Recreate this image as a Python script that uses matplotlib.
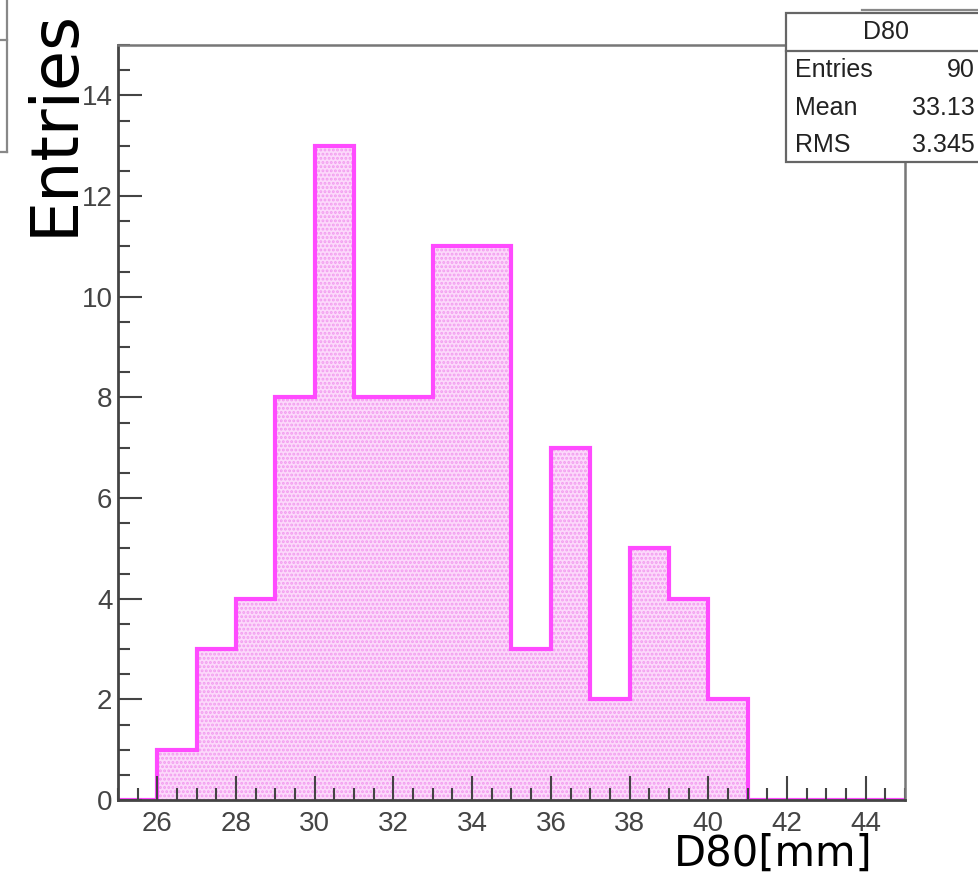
import numpy as np
import matplotlib
matplotlib.use("Agg")
import matplotlib.pyplot as plt
from matplotlib.patches import Rectangle
from matplotlib.lines import Line2D
from matplotlib.ticker import MultipleLocator

# ============================================================
# Histogram contents: D80 distribution, 1 mm bins from 25 to 45.
# ============================================================

bin_edges = list(range(25, 46))
bin_counts = [0, 1, 3, 4, 8, 13, 8, 8, 11, 11, 3, 7, 2, 5, 4, 2, 0, 0, 0, 0]

hist_name = "D80"
stat_names = ["Entries", "Mean", "RMS"]
stat_values = ["90", "33.13", "3.345"]

W, H = 979, 873


def fx(px):
    return px / W


def fy(py):
    return 1 - py / H


plt.rcParams["font.family"] = ["Liberation Sans", "DejaVu Sans"]
plt.rcParams["hatch.linewidth"] = 1.4

fig = plt.figure(figsize=(W / 100, H / 100), dpi=100)
ax = fig.add_axes([fx(118), fy(800), fx(905) - fx(118), fy(45) - fy(800)])

# ============================================================
# Filled histogram with a dotted pattern, then the magenta outline.
# ============================================================

ax.stairs(
    bin_counts,
    bin_edges,
    fill=True,
    facecolor="#fcd9fb",
    edgecolor="#f29bef",
    hatch="....",
    linewidth=0,
)
ax.stairs(
    bin_counts,
    bin_edges,
    baseline=0,
    color="#ff4aff",
    linewidth=3,
)

ax.set_xlim(25, 45)
ax.set_ylim(0, 15)

ax.xaxis.set_major_locator(MultipleLocator(2))
ax.xaxis.set_minor_locator(MultipleLocator(0.5))
ax.yaxis.set_major_locator(MultipleLocator(2))
ax.yaxis.set_minor_locator(MultipleLocator(0.5))

ax.tick_params(which="both", direction="in", color="#444444", width=1.5,
               top=False, right=False)
ax.tick_params(which="major", length=17, labelsize=20, labelcolor="#444444")
ax.tick_params(axis="x", which="major", pad=8)
ax.tick_params(axis="y", which="major", pad=4)
ax.tick_params(which="minor", length=8.5)

for side in ["left", "bottom"]:
    ax.spines[side].set_color("#444444")
    ax.spines[side].set_linewidth(2)
for side in ["top", "right"]:
    ax.spines[side].set_color("#777777")
    ax.spines[side].set_linewidth(1.8)

# ============================================================
# Axis titles.
# ============================================================

fig.text(fx(55), fy(122), "Entries", rotation=90, ha="center", va="center",
         fontsize=47, color="black", family=["DejaVu Sans"])
fig.text(fx(873), fy(866), "D80[mm]", ha="right", va="baseline",
         fontsize=30, color="black", family=["DejaVu Sans"])

# ============================================================
# Statistics box in the upper right corner.
# ============================================================

box = Rectangle((fx(786), fy(162)), fx(995) - fx(786), fy(13) - fy(162),
                transform=fig.transFigure, facecolor="white",
                edgecolor="#666666", linewidth=1.6, zorder=5)
fig.add_artist(box)
fig.add_artist(Line2D([fx(786), fx(995)], [fy(51), fy(51)],
                      transform=fig.transFigure, color="#666666",
                      linewidth=1.6, zorder=6))

fig.text(fx(886), fy(32), hist_name, ha="center", va="center",
         fontsize=18, color="#222222", zorder=7)

row_y = [70, 108, 145]
for name, value, y in zip(stat_names, stat_values, row_y):
    fig.text(fx(795), fy(y), name, ha="left", va="center",
             fontsize=18, color="#222222", zorder=7)
    fig.text(fx(975), fy(y), value, ha="right", va="center",
             fontsize=18, color="#222222", zorder=7)

# Leftover frames at the canvas edges
fig.add_artist(Line2D([fx(862), fx(979)], [fy(10), fy(10)],
                      transform=fig.transFigure, color="#888888", linewidth=1.6))
fig.add_artist(Line2D([fx(7), fx(7)], [fy(0), fy(152)],
                      transform=fig.transFigure, color="#888888", linewidth=1.6))
for y in [40, 152]:
    fig.add_artist(Line2D([fx(0), fx(7)], [fy(y), fy(y)],
                          transform=fig.transFigure, color="#888888",
                          linewidth=1.6))

fig.savefig("out.png", dpi=100)
